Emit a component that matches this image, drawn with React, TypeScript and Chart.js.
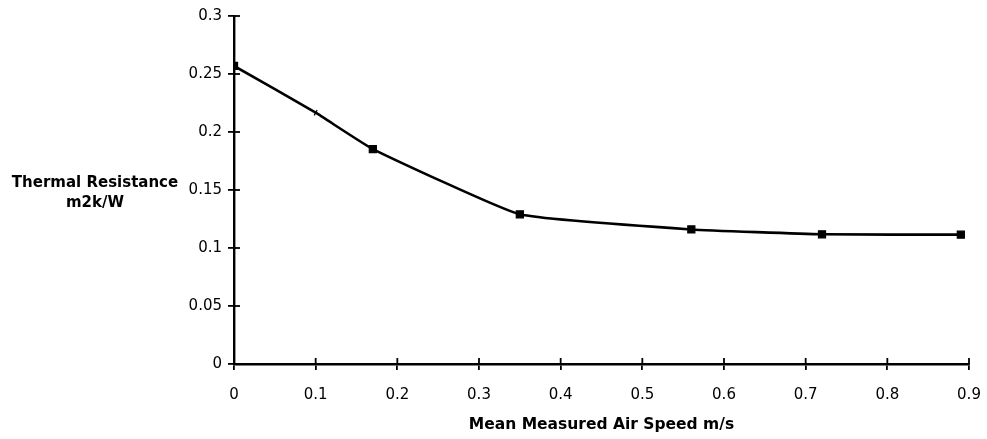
import React, { useEffect, useRef } from "react";
import { Chart, registerables } from "chart.js";

Chart.register(...registerables);

const airSpeed = [0, 0.1, 0.17, 0.35, 0.56, 0.72, 0.89];
const resistance = [0.257, 0.2166, 0.1853, 0.129, 0.116, 0.1118, 0.1115];
const pointStyles = ["rect", "line", "rect", "rect", "rect", "rect", "rect"];
const xTickLabels = ["0", "0.1", "0.2", "0.3", "0.4", "0.5", "0.6", "0.7", "0.8", "0.9"];
const yTickLabels = ["0", "0.05", "0.1", "0.15", "0.2", "0.25", "0.3"];
const xTitle = "Mean Measured Air Speed m/s";
const yTitleLines = ["Thermal Resistance", "m2k/W"];

const FONT = "'DejaVu Sans', sans-serif";

const crossTicks = {
  id: "crossTicks",
  afterDraw(chart: any) {
    const ctx = chart.ctx;
    const x = chart.scales.x;
    const y = chart.scales.y;
    const area = chart.chartArea;
    ctx.save();
    ctx.strokeStyle = "#000";
    ctx.lineWidth = 1.8;
    x.ticks.forEach((_: any, i: number) => {
      const px = x.getPixelForTick(i);
      ctx.beginPath();
      ctx.moveTo(px, area.bottom);
      ctx.lineTo(px, area.bottom - 6);
      ctx.stroke();
    });
    y.ticks.forEach((_: any, i: number) => {
      const py = y.getPixelForTick(i);
      ctx.beginPath();
      ctx.moveTo(area.left, py);
      ctx.lineTo(area.left + 6, py);
      ctx.stroke();
    });
    ctx.fillStyle = "#000";
    ctx.font = `bold 15.5px ${FONT}`;
    ctx.textAlign = "center";
    ctx.textBaseline = "middle";
    ctx.fillText(xTitle, (area.left + area.right) / 2, 425);
    ctx.font = `bold 15px ${FONT}`;
    ctx.fillText(yTitleLines[0], 95, 183);
    ctx.fillText(yTitleLines[1], 95, 203);
    ctx.restore();
  },
};

export default function App() {
  const ref = useRef<HTMLCanvasElement>(null);
  useEffect(() => {
    if (!ref.current) return;
    const chart = new Chart(ref.current, {
      type: "line",
      data: {
        datasets: [
          {
            data: airSpeed.map((v, i) => ({ x: v, y: resistance[i] })),
            borderColor: "#000",
            backgroundColor: "#000",
            borderWidth: 2.6,
            tension: 0.12,
            pointStyle: pointStyles as any,
            pointRadius: airSpeed.map((_, i) => (pointStyles[i] === "line" ? 3 : 5)),
            pointRotation: airSpeed.map((_, i) => (pointStyles[i] === "line" ? 120 : 0)),
            pointBorderWidth: 1.2,
            pointBorderColor: "#000",
            pointBackgroundColor: "#000",
          },
        ],
      },
      plugins: [crossTicks],
      options: {
        animation: false,
        responsive: true,
        maintainAspectRatio: false,
        layout: { padding: { left: 0, right: 18, top: 16, bottom: 0 } },
        plugins: { legend: { display: false }, tooltip: { enabled: false } },
        scales: {
          x: {
            type: "linear",
            min: 0,
            max: 0.9,
            afterFit(scale: any) {
              scale.height = 75;
              scale.paddingRight = 0;
              scale.paddingLeft = 0;
            },
            afterBuildTicks(scale: any) {
              scale.ticks = xTickLabels.map((l) => ({ value: parseFloat(l) }));
            },
            ticks: {
              color: "#000",
              font: { family: FONT, size: 15 },
              padding: 16,
              maxRotation: 0,
              autoSkip: false,
              callback: (_v: any, i: number) => xTickLabels[i],
            },
            grid: { drawOnChartArea: false, drawTicks: true, tickLength: 6, color: "#000", lineWidth: 1.8 },
            border: { color: "#000", width: 2.4 },
          },
          y: {
            type: "linear",
            min: 0,
            max: 0.3,
            afterFit(scale: any) {
              scale.width = 234;
              scale.paddingTop = 0;
              scale.paddingBottom = 0;
            },
            afterBuildTicks(scale: any) {
              scale.ticks = yTickLabels.map((l) => ({ value: parseFloat(l) }));
            },
            ticks: {
              color: "#000",
              font: { family: FONT, size: 15 },
              padding: 6,
              autoSkip: false,
              callback: (_v: any, i: number) => yTickLabels[i],
            },
            grid: { drawOnChartArea: false, drawTicks: true, tickLength: 6, color: "#000", lineWidth: 1.8 },
            border: { color: "#000", width: 2.4 },
          },
        },
      },
    });
    return () => chart.destroy();
  }, []);
  return (
    <div style={{ position: "fixed", left: 0, top: 0, width: 987, height: 439, background: "#fff" }}>
      <canvas ref={ref} />
    </div>
  );
}
